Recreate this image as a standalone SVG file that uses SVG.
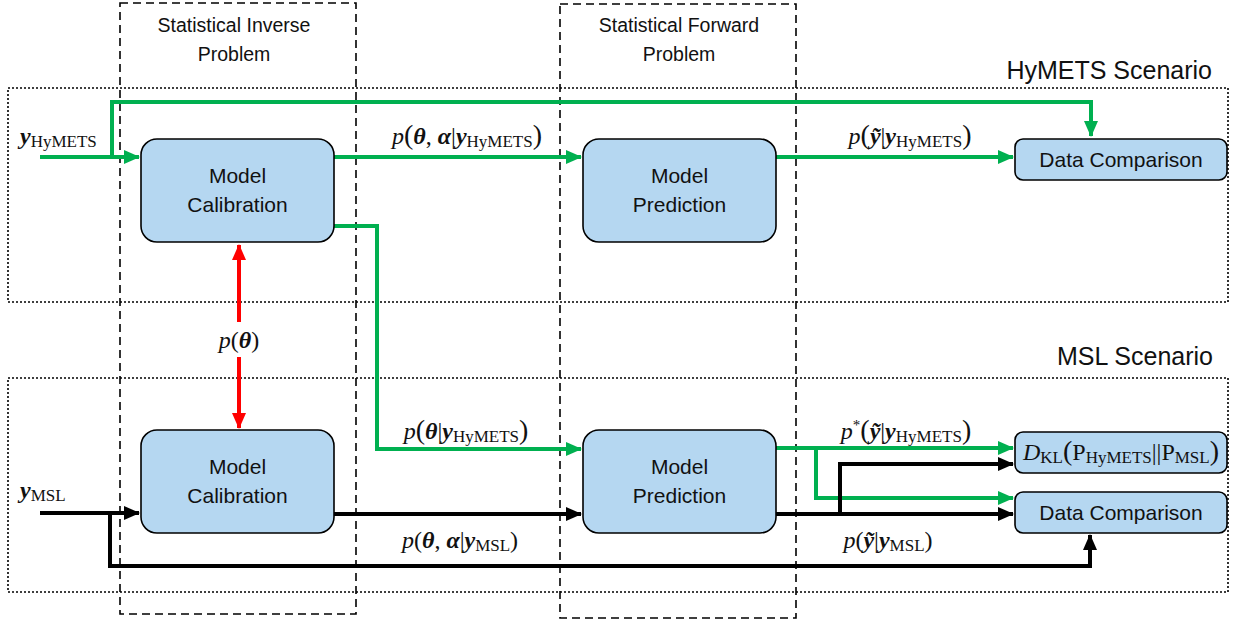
<svg xmlns="http://www.w3.org/2000/svg" width="1233" height="621" viewBox="0 0 1233 621">
<style>
.box{fill:#b5d7f1;stroke:#000;stroke-width:1.6}
.t{font-family:"Liberation Sans",Arial,sans-serif;font-size:21px;fill:#111;text-anchor:middle}
.ttl{font-family:"Liberation Sans",Arial,sans-serif;font-size:19.5px;fill:#111;text-anchor:middle}
.scn{font-family:"Liberation Sans",Arial,sans-serif;font-size:25px;fill:#111;text-anchor:end}
.m{font-family:"Liberation Serif","Times New Roman",serif;font-size:24px;fill:#111}
.i{font-style:italic}
.bi{font-style:italic;font-weight:bold}
.s{font-size:17px;font-style:normal;font-weight:normal}
.pp{font-size:28px}
.dot{fill:none;stroke:#000;stroke-width:1.6;stroke-dasharray:2 2}
.dash{fill:none;stroke:#000;stroke-width:1.6;stroke-dasharray:8 5}
.g{fill:none;stroke:#00b050;stroke-width:4}
.k{fill:none;stroke:#000;stroke-width:4}
.r{fill:none;stroke:#ff0000;stroke-width:4}
</style>
<defs>
<marker id="ag" markerUnits="userSpaceOnUse" markerWidth="16" markerHeight="14" refX="15" refY="7" orient="auto"><path d="M0,0 L16,7 L0,14 Z" fill="#00b050"/></marker>
<marker id="ak" markerUnits="userSpaceOnUse" markerWidth="16" markerHeight="14" refX="15" refY="7" orient="auto"><path d="M0,0 L16,7 L0,14 Z" fill="#000"/></marker>
<marker id="ar" markerUnits="userSpaceOnUse" markerWidth="16" markerHeight="14" refX="15" refY="7" orient="auto"><path d="M0,0 L16,7 L0,14 Z" fill="#ff0000"/></marker>
</defs>
<rect width="1233" height="621" fill="#fff"/>

<g id="regions">
<rect class="dot" x="8" y="88" width="1220" height="214"/>
<rect class="dot" x="8" y="378" width="1220" height="214"/>
<rect class="dash" x="120" y="3" width="236" height="611"/>
<rect class="dash" x="560" y="4" width="236" height="614"/>
<text class="ttl" x="234" y="32">Statistical Inverse</text>
<text class="ttl" x="234" y="61">Problem</text>
<text class="ttl" x="679" y="32">Statistical Forward</text>
<text class="ttl" x="679" y="61">Problem</text>
<text class="scn" x="1212" y="79">HyMETS Scenario</text>
<text class="scn" x="1213" y="365">MSL Scenario</text>
</g>

<g id="connectors">
<path class="g" d="M40,157 H139" marker-end="url(#ag)"/>
<path class="g" d="M112,157 V102 H1091 V136" marker-end="url(#ag)"/>
<path class="g" d="M334,157 H581" marker-end="url(#ag)"/>
<path class="g" d="M776,157 H1013" marker-end="url(#ag)"/>
<path class="g" d="M334,226 H377 V449 H581" marker-end="url(#ag)"/>
<path class="g" d="M776,448 H1013" marker-end="url(#ag)"/>
<path class="g" d="M816,448 V498 H1013" marker-end="url(#ag)"/>
<path class="k" d="M40,513 H139" marker-end="url(#ak)"/>
<path class="k" d="M110,513 V566 H1090 V535" marker-end="url(#ak)"/>
<path class="k" d="M334,514 H581" marker-end="url(#ak)"/>
<path class="k" d="M776,514 H1013" marker-end="url(#ak)"/>
<path class="k" d="M840,514 V464 H1013" marker-end="url(#ak)"/>
<path class="r" d="M239,322 V245" marker-end="url(#ar)"/>
<path class="r" d="M239,357 V428" marker-end="url(#ar)"/>

<text class="m" x="20" y="144"><tspan class="bi">y</tspan><tspan class="s" dy="3">HyMETS</tspan></text>
<text class="m" x="20" y="498"><tspan class="bi">y</tspan><tspan class="s" dy="3">MSL</tspan></text>
<text class="m" x="467" y="144" text-anchor="middle"><tspan class="i">p</tspan><tspan class="pp">(</tspan><tspan class="bi">θ</tspan>, <tspan class="bi">α</tspan>|<tspan class="bi">y</tspan><tspan class="s" dy="3">HyMETS</tspan><tspan class="pp" dy="-3">)</tspan></text>
<text class="m" x="910" y="144" text-anchor="middle"><tspan class="i">p</tspan><tspan class="pp">(</tspan><tspan class="bi">ỹ</tspan>|<tspan class="bi">y</tspan><tspan class="s" dy="3">HyMETS</tspan><tspan class="pp" dy="-3">)</tspan></text>
<text class="m" x="466" y="439" text-anchor="middle"><tspan class="i">p</tspan><tspan class="pp">(</tspan><tspan class="bi">θ</tspan>|<tspan class="bi">y</tspan><tspan class="s" dy="3">HyMETS</tspan><tspan class="pp" dy="-3">)</tspan></text>
<text class="m" x="906" y="439" text-anchor="middle"><tspan class="i">p</tspan><tspan font-size="15" dy="-9">*</tspan><tspan class="pp" dy="9">(</tspan><tspan class="bi">ỹ</tspan>|<tspan class="bi">y</tspan><tspan class="s" dy="3">HyMETS</tspan><tspan class="pp" dy="-3">)</tspan></text>
<text class="m" x="460" y="548" text-anchor="middle"><tspan class="i">p</tspan>(<tspan class="bi">θ</tspan>, <tspan class="bi">α</tspan>|<tspan class="bi">y</tspan><tspan class="s" dy="3">MSL</tspan><tspan dy="-3">)</tspan></text>
<text class="m" x="888" y="548" text-anchor="middle"><tspan class="i">p</tspan>(<tspan class="bi">ỹ</tspan>|<tspan class="bi">y</tspan><tspan class="s" dy="3">MSL</tspan><tspan dy="-3">)</tspan></text>
<text class="m" x="239" y="348" text-anchor="middle"><tspan class="i">p</tspan>(<tspan class="bi">θ</tspan>)</text>
</g>

<g id="cal-hymets">
<rect class="box" x="141" y="139" width="193" height="103" rx="16"/>
<text class="t" x="237.5" y="183">Model</text>
<text class="t" x="237.5" y="212">Calibration</text>
</g>
<g id="pred-hymets">
<rect class="box" x="583" y="139" width="193" height="103" rx="16"/>
<text class="t" x="679.5" y="183">Model</text>
<text class="t" x="679.5" y="212">Prediction</text>
</g>
<g id="comp-hymets">
<rect class="box" x="1015" y="139" width="212" height="41" rx="8"/>
<text class="t" x="1121" y="167">Data Comparison</text>
</g>
<g id="cal-msl">
<rect class="box" x="141" y="430" width="193" height="103" rx="16"/>
<text class="t" x="237.5" y="474">Model</text>
<text class="t" x="237.5" y="503">Calibration</text>
</g>
<g id="pred-msl">
<rect class="box" x="583" y="430" width="193" height="103" rx="16"/>
<text class="t" x="679.5" y="474">Model</text>
<text class="t" x="679.5" y="503">Prediction</text>
</g>
<g id="dkl">
<rect class="box" x="1015" y="432" width="212" height="41" rx="8"/>
<text class="m" x="1121" y="460" text-anchor="middle"><tspan class="i">D</tspan><tspan class="s" dy="3">KL</tspan><tspan class="pp" dy="-3">(</tspan>P<tspan class="s" dy="3">HyMETS</tspan><tspan dy="-3">||P</tspan><tspan class="s" dy="3">MSL</tspan><tspan class="pp" dy="-3">)</tspan></text>
</g>
<g id="comp-msl">
<rect class="box" x="1015" y="492" width="212" height="41" rx="8"/>
<text class="t" x="1121" y="520">Data Comparison</text>
</g>
</svg>
